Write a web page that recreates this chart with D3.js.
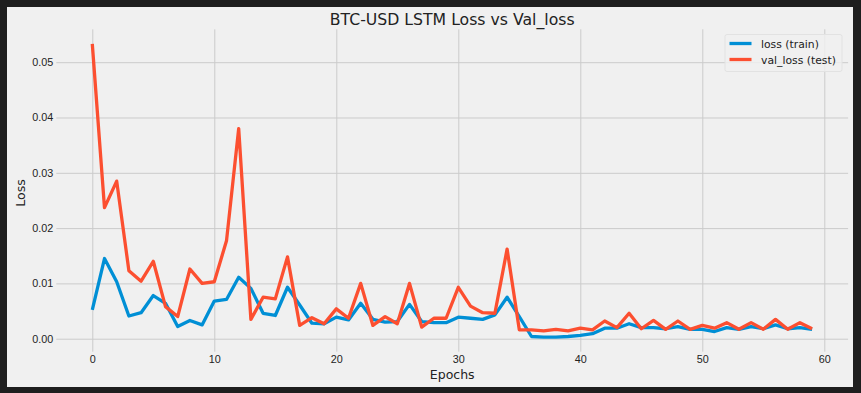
<!DOCTYPE html>
<html>
<head>
<meta charset="utf-8">
<title>BTC-USD LSTM Loss vs Val_loss</title>
<style>
body { margin: 0; background: #1e1e1e; }
svg { display: block; font-family: "DejaVu Sans", sans-serif; }
.grid line { stroke: #cbcbcb; stroke-width: 1; }
.tick text { fill: #222; font-size: 10.8px; }
</style>
</head>
<body>
<svg width="861" height="393"></svg>
<script src="https://d3js.org/d3.v7.min.js"></script>
<script>
// values, one per epoch (0..59)
var epochs = d3.range(60);
var loss = [0.0052, 0.0145, 0.0103, 0.0041, 0.0047, 0.0078, 0.0064, 0.0022, 0.0033, 0.0025,
            0.0068, 0.0071, 0.0111, 0.0091, 0.0046, 0.0042, 0.0093, 0.0061, 0.0028, 0.0027,
            0.0039, 0.0034, 0.0064, 0.0035, 0.0030, 0.0031, 0.0062, 0.0031, 0.0029, 0.0029,
            0.0039, 0.0037, 0.0035, 0.0043, 0.0075, 0.0040, 0.0004, 0.0003, 0.0003, 0.0004,
            0.0006, 0.0009, 0.0019, 0.0019, 0.0027, 0.0020, 0.0020, 0.0018, 0.0022, 0.0017,
            0.0017, 0.0013, 0.0020, 0.0017, 0.0022, 0.0018, 0.0025, 0.0018, 0.0020, 0.0017];
var valLoss = [0.0533, 0.0237, 0.0285, 0.0123, 0.0104, 0.0140, 0.0058, 0.0040, 0.0126, 0.0100,
               0.0103, 0.0177, 0.0380, 0.0035, 0.0075, 0.0072, 0.0148, 0.0024, 0.0038, 0.0027,
               0.0054, 0.0037, 0.0100, 0.0024, 0.0040, 0.0027, 0.0100, 0.0021, 0.0037, 0.0037,
               0.0093, 0.0059, 0.0047, 0.0046, 0.0162, 0.0016, 0.0016, 0.0014, 0.0017, 0.0014,
               0.0019, 0.0016, 0.0032, 0.0020, 0.0046, 0.0018, 0.0033, 0.0017, 0.0032, 0.0017,
               0.0024, 0.0019, 0.0029, 0.0017, 0.0029, 0.0017, 0.0035, 0.0017, 0.0029, 0.0018];
var seriesNames = ["loss (train)", "val_loss (test)"];
var seriesColors = ["#008fd5", "#fc4f30"];
var xTicks = [0, 10, 20, 30, 40, 50, 60];
var yTicks = [0, 0.01, 0.02, 0.03, 0.04, 0.05];

var svg = d3.select("svg");

// light figure panel inside the dark frame
svg.append("rect")
    .attr("x", 7).attr("y", 7)
    .attr("width", 846).attr("height", 380)
    .attr("fill", "#f0f0f0");

// matplotlib style 5% margins
var xExt = d3.extent(epochs), xPad = (xExt[1] - xExt[0]) * 0.05;
var yExt = d3.extent(loss.concat(valLoss)), yPad = (yExt[1] - yExt[0]) * 0.05;

var x = d3.scaleLinear()
    .domain([xExt[0] - xPad, xExt[1] + xPad])
    .range([56.3, 848.1]);
var y = d3.scaleLinear()
    .domain([yExt[0] - yPad, yExt[1] + yPad])
    .range([351.7, 29.3]);

// grid + ticks
var xAxis = svg.append("g")
    .attr("class", "grid")
    .attr("transform", "translate(0," + y.range()[0] + ")")
    .call(d3.axisBottom(x)
        .tickValues(xTicks)
        .tickSize(-(y.range()[0] - y.range()[1]))
        .tickPadding(3.5)
        .tickFormat(d3.format("d")));
xAxis.select(".domain").remove();

var yAxis = svg.append("g")
    .attr("class", "grid")
    .attr("transform", "translate(" + x.range()[0] + ",0)")
    .call(d3.axisLeft(y)
        .tickValues(yTicks)
        .tickSize(-(x.range()[1] - x.range()[0]))
        .tickPadding(3)
        .tickFormat(d3.format(".2f")));
yAxis.select(".domain").remove();

// lines
var line = d3.line()
    .x(function(d, i) { return x(epochs[i]); })
    .y(function(d) { return y(d); });

[loss, valLoss].forEach(function(s, k) {
  svg.append("path")
      .datum(s)
      .attr("fill", "none")
      .attr("stroke", seriesColors[k])
      .attr("stroke-width", 3.3)
      .attr("stroke-linejoin", "round")
      .attr("d", line);
});

// title and axis labels
svg.append("text")
    .attr("x", (x.range()[0] + x.range()[1]) / 2)
    .attr("y", 25)
    .attr("text-anchor", "middle")
    .attr("font-size", "15.7px")
    .attr("fill", "#222")
    .text("BTC-USD LSTM Loss vs Val_loss");
svg.append("text")
    .attr("x", (x.range()[0] + x.range()[1]) / 2)
    .attr("y", 379)
    .attr("text-anchor", "middle")
    .attr("font-size", "12.5px")
    .attr("fill", "#222")
    .text("Epochs");
svg.append("text")
    .attr("transform", "translate(24.5,193) rotate(-90)")
    .attr("text-anchor", "middle")
    .attr("font-size", "12.5px")
    .attr("fill", "#222")
    .text("Loss");

// legend
var legend = svg.append("g").attr("transform", "translate(725,34.5)");
legend.append("rect")
    .attr("width", 117).attr("height", 37)
    .attr("rx", 2)
    .attr("fill", "#f0f0f0").attr("fill-opacity", 0.8)
    .attr("stroke", "#e2e2e2");
seriesNames.forEach(function(n, k) {
  var row = legend.append("g").attr("transform", "translate(0," + (9 + k * 16) + ")");
  row.append("line")
      .attr("x1", 4.5).attr("x2", 26.5)
      .attr("stroke", seriesColors[k]).attr("stroke-width", 3.3);
  row.append("text")
      .attr("x", 36).attr("y", 4)
      .attr("font-size", "10.8px")
      .attr("fill", "#222")
      .text(n);
});
</script>
</body>
</html>
